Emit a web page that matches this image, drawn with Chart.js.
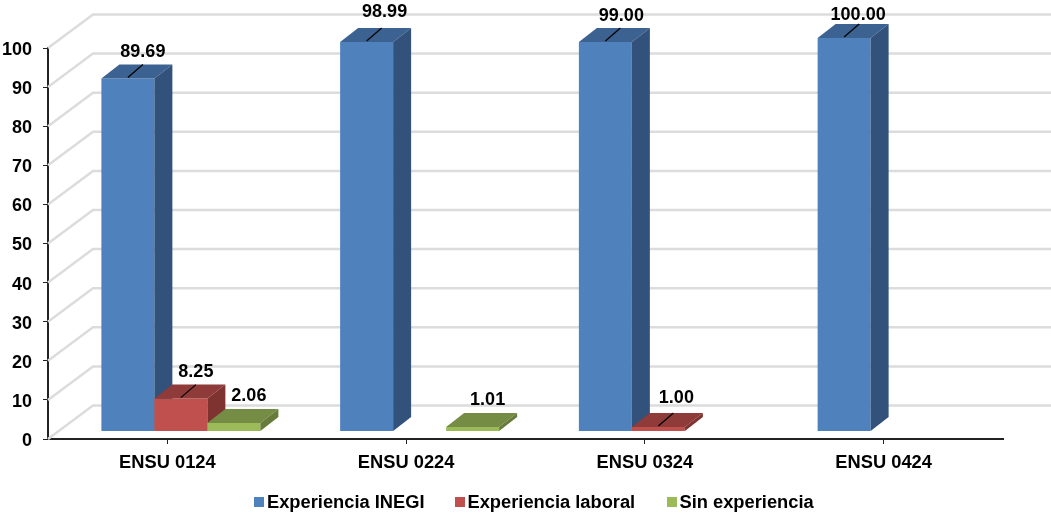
<!DOCTYPE html>
<html>
<head>
<meta charset="utf-8">
<title>ENSU</title>
<script src="https://cdn.jsdelivr.net/npm/chart.js@4"></script>
<style>
  html, body { margin: 0; padding: 0; background: #fff; }
  #wrap { position: relative; width: 1051px; height: 514px; overflow: hidden; }
  #legend { position: absolute; top: 490px; left: 254px; height: 24px; font: bold 18.3px "Liberation Sans", Arial, sans-serif; color: #000; }
  #legend span { position: absolute; white-space: nowrap; line-height: 24px; top: 0; }
  #legend i { position: absolute; width: 10px; height: 10px; top: 7px; }
</style>
</head>
<body>
<div id="wrap">
  <canvas id="chart" width="1051" height="514"></canvas>
  <div id="legend"></div>
</div>
<script>
const categories = ['ENSU 0124', 'ENSU 0224', 'ENSU 0324', 'ENSU 0424'];
const experienciaInegi = [89.69, 98.99, 99.00, 100.00];
const experienciaLaboral = [8.25, null, 1.00, null];
const sinExperiencia = [2.06, 1.01, null, null];
const yTicks = [0, 10, 20, 30, 40, 50, 60, 70, 80, 90, 100];

// look of the fake 3d
const FONT = '"Liberation Sans", Arial, sans-serif';
const barShift = { x: 13.5, y: -8 };
const barDepth = { x: 18, y: -14 };
const wallDepth = { x: 45, y: -33.5 };
const faces = [
  { front: '#4f81bd', top: '#3b6290', side: '#32527b' },
  { front: '#c0504d', top: '#8e3b39', side: '#7f3331' },
  { front: '#9bbb59', top: '#748c43', side: '#677c3b' }
];
const legendX = [0, 200.5, 412.5];

// label tweaks per "dataset:point", the rest use the default offset
const labelOffset = { x: 15, y: -27 };
const labelNudge = {
  '0:1': { x: 18, y: -30 }, '0:2': { x: 16, y: -26 }, '0:3': { x: 14, y: -23 },
  '1:2': { x: 18, y: -29 }
};
const noLeader = ['2:0', '2:1'];

function poly(ctx, color, pts) {
  ctx.fillStyle = color;
  ctx.beginPath();
  pts.forEach((p, i) => i ? ctx.lineTo(p[0], p[1]) : ctx.moveTo(p[0], p[1]));
  ctx.closePath();
  ctx.fill();
}

const fake3d = {
  id: 'fake3d',
  beforeDatasetsDraw(chart) {
    // back wall + floor grid
    const ctx = chart.ctx, y = chart.scales.y, left = chart.chartArea.left;
    ctx.save();
    ctx.strokeStyle = '#dcdcdc';
    ctx.lineWidth = 2.5;
    yTicks.forEach(t => {
      const py = y.getPixelForValue(t);
      ctx.beginPath();
      ctx.moveTo(left, py);
      ctx.lineTo(left + wallDepth.x, py + wallDepth.y);
      ctx.lineTo(chart.width, py + wallDepth.y);
      ctx.stroke();
    });
    ctx.restore();
  },
  // chart.js paints the last dataset first, here the red has to cover the blue side
  beforeDatasetDraw() {
    return false;
  },
  afterDatasetsDraw(chart) {
    const ctx = chart.ctx;
    chart.data.datasets.forEach((ds, d) => {
      const meta = chart.getDatasetMeta(d), c = faces[d];
      ctx.save();
      ctx.translate(barShift.x, barShift.y);
      meta.controller.draw();
      meta.data.forEach((el, i) => {
        if (ds.data[i] == null) return;
        const l = el.x - el.width / 2, r = el.x + el.width / 2;
        const dx = barDepth.x, dy = barDepth.y;
        poly(ctx, c.top, [[l, el.y], [r, el.y], [r + dx, el.y + dy], [l + dx, el.y + dy]]);
        poly(ctx, c.side, [[r, el.y], [r + dx, el.y + dy], [r + dx, el.base + dy], [r, el.base]]);
      });
      ctx.restore();
    });

    ctx.save();
    ctx.font = 'bold 18px ' + FONT;
    ctx.fillStyle = '#000';
    ctx.textAlign = 'center';
    ctx.textBaseline = 'middle';
    chart.data.datasets.forEach((ds, d) => {
      chart.getDatasetMeta(d).data.forEach((el, i) => {
        if (ds.data[i] == null) return;
        const key = d + ':' + i;
        const off = labelNudge[key] || labelOffset;
        const x = el.x + barShift.x, y = el.y + barShift.y;
        if (!noLeader.includes(key)) {
          ctx.strokeStyle = '#000';
          ctx.lineWidth = 1.2;
          ctx.beginPath();
          ctx.moveTo(x, y - 1);
          ctx.lineTo(x + 15, y - 14);
          ctx.stroke();
        }
        ctx.fillText(ds.data[i].toFixed(2), x + off.x, y + off.y);
      });
    });
    ctx.restore();
  }
};

const chart = new Chart(document.getElementById('chart'), {
  type: 'bar',
  plugins: [fake3d],
  data: {
    labels: categories,
    datasets: [
      { label: 'Experiencia INEGI', data: experienciaInegi, backgroundColor: faces[0].front, yAxisID: 'yBars' },
      { label: 'Experiencia laboral', data: experienciaLaboral, backgroundColor: faces[1].front, yAxisID: 'yBars' },
      { label: 'Sin experiencia', data: sinExperiencia, backgroundColor: faces[2].front, yAxisID: 'yBars' }
    ]
  },
  options: {
    responsive: false,
    animation: false,
    layout: { padding: { top: 48, right: 48, bottom: 0, left: 0 } },
    datasets: { bar: { barPercentage: 1, categoryPercentage: 0.666, clip: false } },
    plugins: { legend: { display: false }, tooltip: { enabled: false } },
    scales: {
      x: {
        afterFit(s) { s.height = 75; },
        border: { color: '#222', width: 2 },
        grid: { offset: false, drawOnChartArea: false, color: '#222', tickLength: 5 },
        ticks: { color: '#000', padding: 8, maxRotation: 0, font: { family: FONT, size: 18.3, weight: 'bold' } }
      },
      y: {
        type: 'linear',
        min: 0,
        max: 100,
        afterFit(s) { s.width = 48; },
        border: { color: '#222', width: 2 },
        grid: { drawOnChartArea: false, color: '#222', tickLength: 5 },
        ticks: { stepSize: 10, color: '#000', padding: 11, labelOffset: 2, font: { family: FONT, size: 18, weight: 'bold' } }
      },
      // bars run a touch taller than the printed axis
      yBars: { type: 'linear', display: false, min: 0, max: 99.5 }
    }
  }
});

const legend = document.getElementById('legend');
chart.data.datasets.forEach((ds, i) => {
  const box = document.createElement('i');
  box.style.left = legendX[i] + 'px';
  box.style.background = ds.backgroundColor;
  const txt = document.createElement('span');
  txt.style.left = (legendX[i] + 13) + 'px';
  txt.textContent = ds.label;
  legend.appendChild(box);
  legend.appendChild(txt);
});
</script>
</body>
</html>
